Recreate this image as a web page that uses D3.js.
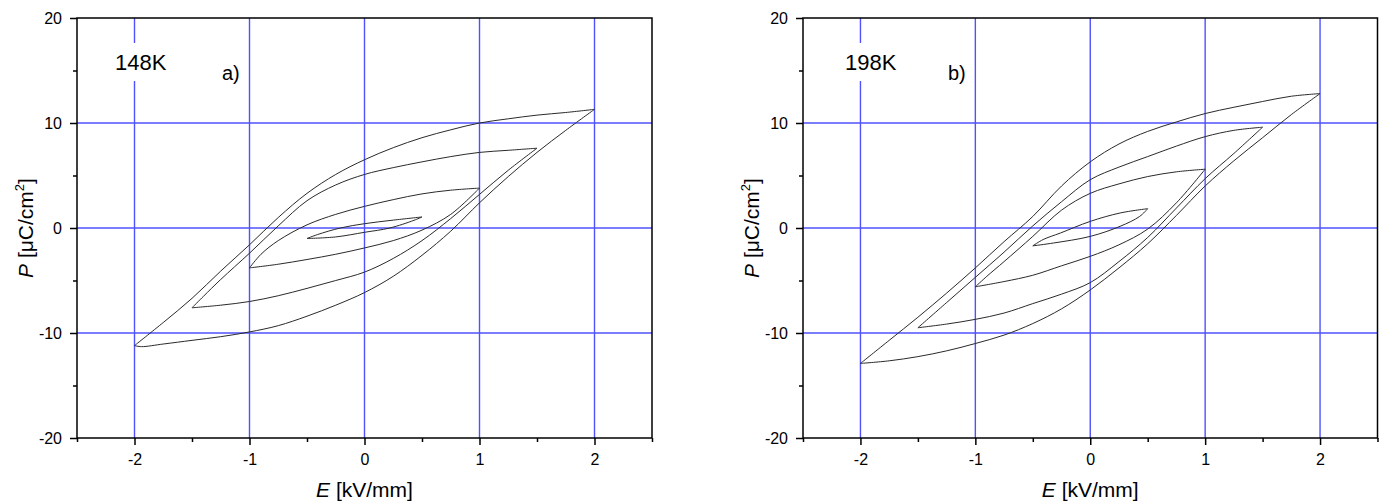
<!DOCTYPE html>
<html><head><meta charset="utf-8">
<script src="https://cdn.jsdelivr.net/npm/d3@7"></script>
<style>body{margin:0;background:#fff}</style>
</head><body>
<svg id="c" width="1385" height="501"></svg>
<script>
// ---------- data ----------
const xMajorTicks = [-2, -1, 0, 1, 2];
const xMinorTicks = [-2.5, -1.5, -0.5, 0.5, 1.5, 2.5];
const yMajorTicks = [-20, -10, 0, 10, 20];
const yMinorTicks = [-15, -5, 5, 15];
const xGrid = [-2, -1, 0, 1, 2];
const yGrid = [-10, 0, 10];
const panelTemps = ["148K", "198K"];
const panelLetters = ["a)", "b)"];

// panel a) 148K : [E, P] points; "up" = E decreasing branch, "dn" = E increasing branch
const a20_up = [[2,11.3],[1.75,11.0],[1.5,10.75],[1.25,10.4],[1.0,10.0],[0.75,9.35],[0.5,8.6],[0.25,7.65],[0,6.5],[-0.25,5.1],[-0.5,3.3],[-0.75,1.0],[-1.0,-1.6],[-1.25,-4.1],[-1.5,-6.7],[-1.75,-9.0],[-2,-11.2]];
const a20_dn = [[-2,-11.2],[-1.94,-11.3],[-1.75,-11.05],[-1.5,-10.7],[-1.25,-10.35],[-1.0,-9.9],[-0.75,-9.3],[-0.5,-8.4],[-0.25,-7.35],[0,-6.15],[0.25,-4.6],[0.5,-2.6],[0.75,-0.3],[1.0,2.4],[1.25,4.9],[1.5,7.2],[1.75,9.3],[2,11.3]];
const a15_up = [[1.5,7.6],[1.25,7.4],[1.0,7.2],[0.75,6.8],[0.5,6.3],[0.25,5.75],[0,5.1],[-0.25,4.1],[-0.5,2.6],[-0.75,0.2],[-1.0,-2.4],[-1.25,-4.9],[-1.4,-6.5],[-1.5,-7.6]];
const a15_dn = [[-1.5,-7.6],[-1.25,-7.35],[-1.0,-7.0],[-0.75,-6.45],[-0.5,-5.75],[-0.25,-5.0],[0,-4.2],[0.25,-2.9],[0.5,-1.2],[0.75,0.9],[1.0,3.2],[1.25,5.5],[1.5,7.6]];
const a10_up = [[1.0,3.8],[0.75,3.6],[0.5,3.25],[0.25,2.7],[0,2.06],[-0.25,1.3],[-0.5,0.3],[-0.75,-1.2],[-0.9,-2.5],[-1.0,-3.8]];
const a10_dn = [[-1.0,-3.8],[-0.75,-3.45],[-0.5,-3.0],[-0.25,-2.5],[0,-1.9],[0.25,-1.2],[0.5,-0.2],[0.75,1.3],[1.0,3.8]];
const a05_up = [[0.5,1.05],[0.25,0.75],[0,0.41],[-0.21,0],[-0.41,-0.63],[-0.5,-1.0]];
const a05_dn = [[-0.5,-1.0],[-0.25,-0.85],[0,-0.41],[0.22,0],[0.43,0.73],[0.5,1.05]];

// panel b) 198K
const b20_up = [[2,12.8],[1.75,12.55],[1.5,12.05],[1.25,11.5],[1.0,10.9],[0.75,10.1],[0.5,9.2],[0.25,8.0],[0,6.3],[-0.25,4.0],[-0.5,1.1],[-0.75,-1.3],[-1.0,-3.8],[-1.25,-6.2],[-1.5,-8.5],[-1.75,-10.7],[-2,-12.9]];
const b20_dn = [[-2,-12.9],[-1.75,-12.65],[-1.5,-12.25],[-1.25,-11.7],[-1.0,-11.0],[-0.75,-10.2],[-0.5,-9.1],[-0.25,-7.7],[0,-5.9],[0.25,-3.8],[0.5,-1.5],[0.75,1.2],[1.0,4.0],[1.25,6.4],[1.5,8.6],[1.75,10.8],[2,12.8]];
const b15_up = [[1.5,9.6],[1.25,9.3],[1.0,8.7],[0.75,7.8],[0.5,6.8],[0.25,5.8],[0,4.6],[-0.25,2.5],[-0.5,0.2],[-0.75,-2.3],[-1.0,-4.7],[-1.25,-7.1],[-1.5,-9.5]];
const b15_dn = [[-1.5,-9.5],[-1.25,-9.15],[-1.0,-8.7],[-0.75,-8.1],[-0.5,-7.2],[-0.25,-6.3],[0,-5.2],[0.25,-3.2],[0.5,-0.9],[0.75,1.9],[1.0,4.7],[1.25,7.1],[1.5,9.6]];
const b10_up = [[1.0,5.6],[0.75,5.35],[0.5,4.9],[0.25,4.2],[0,3.3],[-0.25,1.7],[-0.5,-0.8],[-0.75,-3.2],[-0.9,-4.6],[-1.0,-5.6]];
const b10_dn = [[-1.0,-5.6],[-0.75,-5.1],[-0.5,-4.5],[-0.25,-3.6],[0,-2.7],[0.25,-1.6],[0.5,-0.1],[0.75,2.4],[1.0,5.6]];
const b05_up = [[0.5,1.84],[0.26,1.43],[0,0.63],[-0.26,-0.48],[-0.41,-1.1],[-0.5,-1.7]];
const b05_dn = [[-0.5,-1.7],[-0.32,-1.43],[0,-0.8],[0.26,0.16],[0.43,1.1],[0.5,1.84]];

const panelA = [a20_up,a20_dn,a15_up,a15_dn,a10_up,a10_dn,a05_up,a05_dn];
const panelB = [b20_up,b20_dn,b15_up,b15_dn,b10_up,b10_dn,b05_up,b05_dn];

// ---------- drawing ----------
const svg = d3.select("#c");
const FONT = "'Liberation Sans', Arial, sans-serif";
const GRID = "#5050ff";

function drawPanel(x0, x1, branches, temp, letter, tempX, letterX) {
  const top = 18, bottom = 438;
  const x = d3.scaleLinear().domain([-2.5, 2.5]).range([x0, x1]);
  const y = d3.scaleLinear().domain([-20, 20]).range([bottom, top]);
  const g = svg.append("g");

  g.selectAll(null).data(xGrid).join("line")
    .attr("x1", d => x(d)).attr("x2", d => x(d))
    .attr("y1", top).attr("y2", bottom)
    .attr("stroke", GRID).attr("stroke-width", 1.4);
  g.selectAll(null).data(yGrid).join("line")
    .attr("y1", d => y(d)).attr("y2", d => y(d))
    .attr("x1", x0).attr("x2", x1)
    .attr("stroke", GRID).attr("stroke-width", 1.4);

  // labels with white background (cover gridline)
  const t1 = g.append("text").attr("x", tempX).attr("y", 70)
    .attr("font-family", FONT).attr("font-size", 22).attr("fill", "#000").text(temp);
  const bb = t1.node().getBBox();
  g.insert("rect", "text").attr("x", bb.x - 4).attr("y", 43).attr("width", bb.width + 8).attr("height", 38).attr("fill", "#fff");
  g.append("text").attr("x", letterX).attr("y", 80)
    .attr("font-family", FONT).attr("font-size", 20).attr("fill", "#000").text(letter);

  const line = d3.line().x(d => x(d[0])).y(d => y(d[1])).curve(d3.curveCatmullRom.alpha(0.5));
  g.selectAll(null).data(branches).join("path")
    .attr("d", line).attr("fill", "none")
    .attr("stroke", "#2a2a2a").attr("stroke-width", 1);

  // axes
  const fmt = d => String(d);
  const xa = g.append("g").attr("transform", `translate(0,${bottom})`)
    .call(d3.axisBottom(x).tickValues(xMajorTicks).tickSize(7).tickPadding(9).tickFormat(fmt).tickSizeOuter(0));
  const xm = g.append("g").attr("transform", `translate(0,${bottom})`)
    .call(d3.axisBottom(x).tickValues(xMinorTicks).tickSize(4).tickFormat("").tickSizeOuter(0));
  const ya = g.append("g").attr("transform", `translate(${x0},0)`)
    .call(d3.axisLeft(y).tickValues(yMajorTicks).tickSize(7).tickPadding(8).tickFormat(fmt).tickSizeOuter(0));
  const ym = g.append("g").attr("transform", `translate(${x0},0)`)
    .call(d3.axisLeft(y).tickValues(yMinorTicks).tickSize(4).tickFormat("").tickSizeOuter(0));
  [xa, xm, ya, ym].forEach(a => {
    a.selectAll("path").remove();
    a.selectAll("line").attr("stroke", "#000").attr("stroke-width", 1.5);
    a.selectAll("text").attr("font-family", FONT).attr("font-size", 16).attr("fill", "#000");
  });

  g.append("rect").attr("x", x0).attr("y", top).attr("width", x1 - x0).attr("height", bottom - top)
    .attr("fill", "none").attr("stroke", "#000").attr("stroke-width", 1.5);

  // axis titles
  const xt = g.append("text").attr("x", (x0 + x1) / 2).attr("y", 497)
    .attr("text-anchor", "middle").attr("font-family", FONT).attr("font-size", 21).attr("fill", "#000");
  xt.append("tspan").attr("font-style", "italic").text("E");
  xt.append("tspan").text(" [kV/mm]");

  const yt = g.append("text").attr("transform", `translate(${x0 - 44},${y(0)}) rotate(-90)`)
    .attr("text-anchor", "middle").attr("font-family", FONT).attr("font-size", 21).attr("fill", "#000");
  yt.append("tspan").attr("font-style", "italic").text("P");
  yt.append("tspan").text(" [\u03BCC/cm");
  yt.append("tspan").attr("font-size", 13).attr("dy", -9).text("2");
  yt.append("tspan").attr("dy", 9).text("]");
}

drawPanel(77, 652, panelA, panelTemps[0], panelLetters[0], 115, 222);
drawPanel(803, 1377.5, panelB, panelTemps[1], panelLetters[1], 845, 948);
</script>
</body></html>
